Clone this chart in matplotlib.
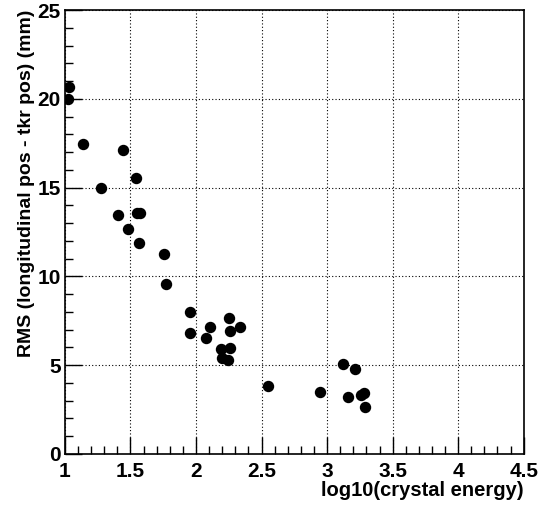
import matplotlib
matplotlib.use("Agg")
import matplotlib.pyplot as plt
from matplotlib.ticker import MultipleLocator, FuncFormatter

log_energy = [1.03, 1.02, 1.14, 1.443, 1.542, 1.277, 1.405, 1.552, 1.573, 1.479,
              1.562, 1.756, 1.773, 1.957, 1.957, 2.08, 2.105, 2.25, 2.26, 2.333,
              2.193, 2.26, 2.20, 2.242, 2.552, 2.949, 3.122, 3.214, 3.158, 3.26,
              3.28, 3.288]
rms = [20.69, 19.98, 17.45, 17.11, 15.55, 15.0, 13.46, 13.56, 13.6, 12.69,
       11.89, 11.27, 9.58, 8.02, 6.8, 6.54, 7.14, 7.68, 6.93, 7.14,
       5.92, 5.99, 5.39, 5.30, 3.83, 3.49, 5.07, 4.79, 3.23, 3.31,
       3.42, 2.67]

xlabel = "log10(crystal energy)"
ylabel = "RMS (longitudinal pos - tkr pos) (mm)"

plt.rcParams['font.family'] = ['Liberation Sans', 'DejaVu Sans']
plt.rcParams['font.weight'] = 'bold'

fig = plt.figure(figsize=(5.41, 5.05), dpi=100)
ax = fig.add_axes([0.120, 0.101, 0.848, 0.879])

ax.plot(log_energy, rms, 'o', color='black', markersize=7.2, zorder=3)

ax.set_xlim(1, 4.5)
ax.set_ylim(0, 25)
ax.xaxis.set_major_locator(MultipleLocator(0.5))
ax.xaxis.set_minor_locator(MultipleLocator(0.1))
ax.yaxis.set_major_locator(MultipleLocator(5))
ax.yaxis.set_minor_locator(MultipleLocator(1))
ax.xaxis.set_major_formatter(FuncFormatter(lambda v, p: f"{v:g}"))
ax.yaxis.set_major_formatter(FuncFormatter(lambda v, p: f"{v:g}"))

ax.tick_params(which='major', direction='in', length=12, width=1, labelsize=15)
ax.tick_params(axis='x', which='major', pad=5.5)
ax.tick_params(axis='y', which='major', pad=3)
ax.tick_params(which='minor', direction='in', length=6, width=1)
ax.tick_params(top=False, right=False)
for lab in ax.get_xticklabels() + ax.get_yticklabels():
    lab.set_fontweight('bold')

ax.grid(True, which='major', linestyle=(0, (1, 2)), color='black', linewidth=0.8)
for s in ax.spines.values():
    s.set_linewidth(1.2)

ax.set_xlabel(xlabel, fontsize=14.5, fontweight='bold', loc='right', labelpad=0)
ax.set_ylabel(ylabel, fontsize=14, fontweight='bold', loc='top', labelpad=2)

fig.savefig("out.png", dpi=100)
